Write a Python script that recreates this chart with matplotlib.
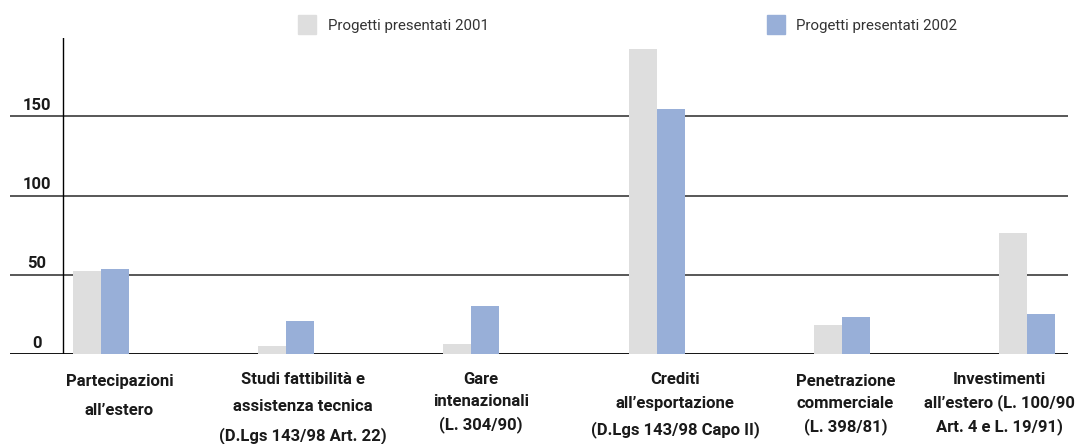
import numpy as np
import matplotlib
matplotlib.use("Agg")
import matplotlib.pyplot as plt
from matplotlib.patches import Rectangle
from matplotlib.transforms import blended_transform_factory

# data
categories = ["Partecipazioni\nall\u2019estero",
              "Studi fattibilit\u00e0 e\nassistenza tecnica\n(D.Lgs 143/98 Art. 22)",
              "Gare\nintenazionali\n(L. 304/90)",
              "Crediti\nall\u2019esportazione\n(D.Lgs 143/98 Capo II)",
              "Penetrazione\ncommerciale\n(L. 398/81)",
              "Investimenti\nall\u2019estero (L. 100/90\nArt. 4 e L. 19/91)"]
progetti_2001 = [52.5, 5.2, 6.5, 192.4, 18.5, 76.4]
progetti_2002 = [53.7, 21.0, 30.4, 154.5, 23.5, 25.4]
yticks = [0, 50, 100, 150]
series_names = ["Progetti presentati 2001", "Progetti presentati 2002"]

c2001 = "#dedede"
c2002 = "#98afd8"
W, H = 1078, 444
plt.rcParams['font.family'] = ['Roboto', 'DejaVu Sans']

fig = plt.figure(figsize=(W / 100, H / 100), dpi=100)
ax = fig.add_axes([10 / W, (H - 354.3) / H, 1058 / W, 316.3 / H])

x = np.arange(len(categories))
w = 28 / 185.2
ax.bar(x - w / 2, progetti_2001, width=w, color=c2001, zorder=1)
ax.bar(x + w / 2, progetti_2002, width=w, color=c2002, zorder=1)

ax.set_xlim((10 - 101) / 185.2, (1068 - 101) / 185.2)
ax.set_ylim(0, 199.3)
for s in ax.spines.values():
    s.set_visible(False)
ax.set_xticks([])
ax.set_yticks([])

# horizontal rules and the y axis line
for t in yticks:
    ax.axhline(t, color="#000000" if t == 0 else "#4a4a4a", lw=1.3, zorder=0)
ax.axvline((63 - 101) / 185.2, color="black", lw=1.0, zorder=3)

# tick labels sit just above each rule
for t in yticks:
    ax.text((37 - 101) / 185.2, t + 2.2, str(t), ha="center", va="bottom",
            fontsize=12, fontweight="bold", color="#1a1a1a")

# category labels under the groups
trans = blended_transform_factory(ax.transData, fig.transFigure)
label_shift = [0.10, 0.09, 0.05, 0.10, 0.02, -0.15]
label_spacing = [2.15, 2.0, 1.55, 1.75, 1.55, 1.55]
label_top = [374, 372, 372, 372, 374, 372]
for i, lab in enumerate(categories):
    ax.text(i + label_shift[i], (H - label_top[i]) / H, lab, transform=trans,
            ha="center", va="top", fontsize=12, fontweight="bold",
            color="#1a1a1a", linespacing=label_spacing[i])

# legend drawn by hand
for (sx, tx), col, name in zip([(298, 328), (767, 796)], [c2001, c2002], series_names):
    fig.patches.append(Rectangle((sx / W, (H - 34) / H), 18 / W, 19 / H,
                                 transform=fig.transFigure, color=col))
    fig.text(tx / W, (H - 26) / H, name, ha="left", va="center",
             fontsize=10.8, color="#333333")

fig.savefig("out.png", dpi=100)
